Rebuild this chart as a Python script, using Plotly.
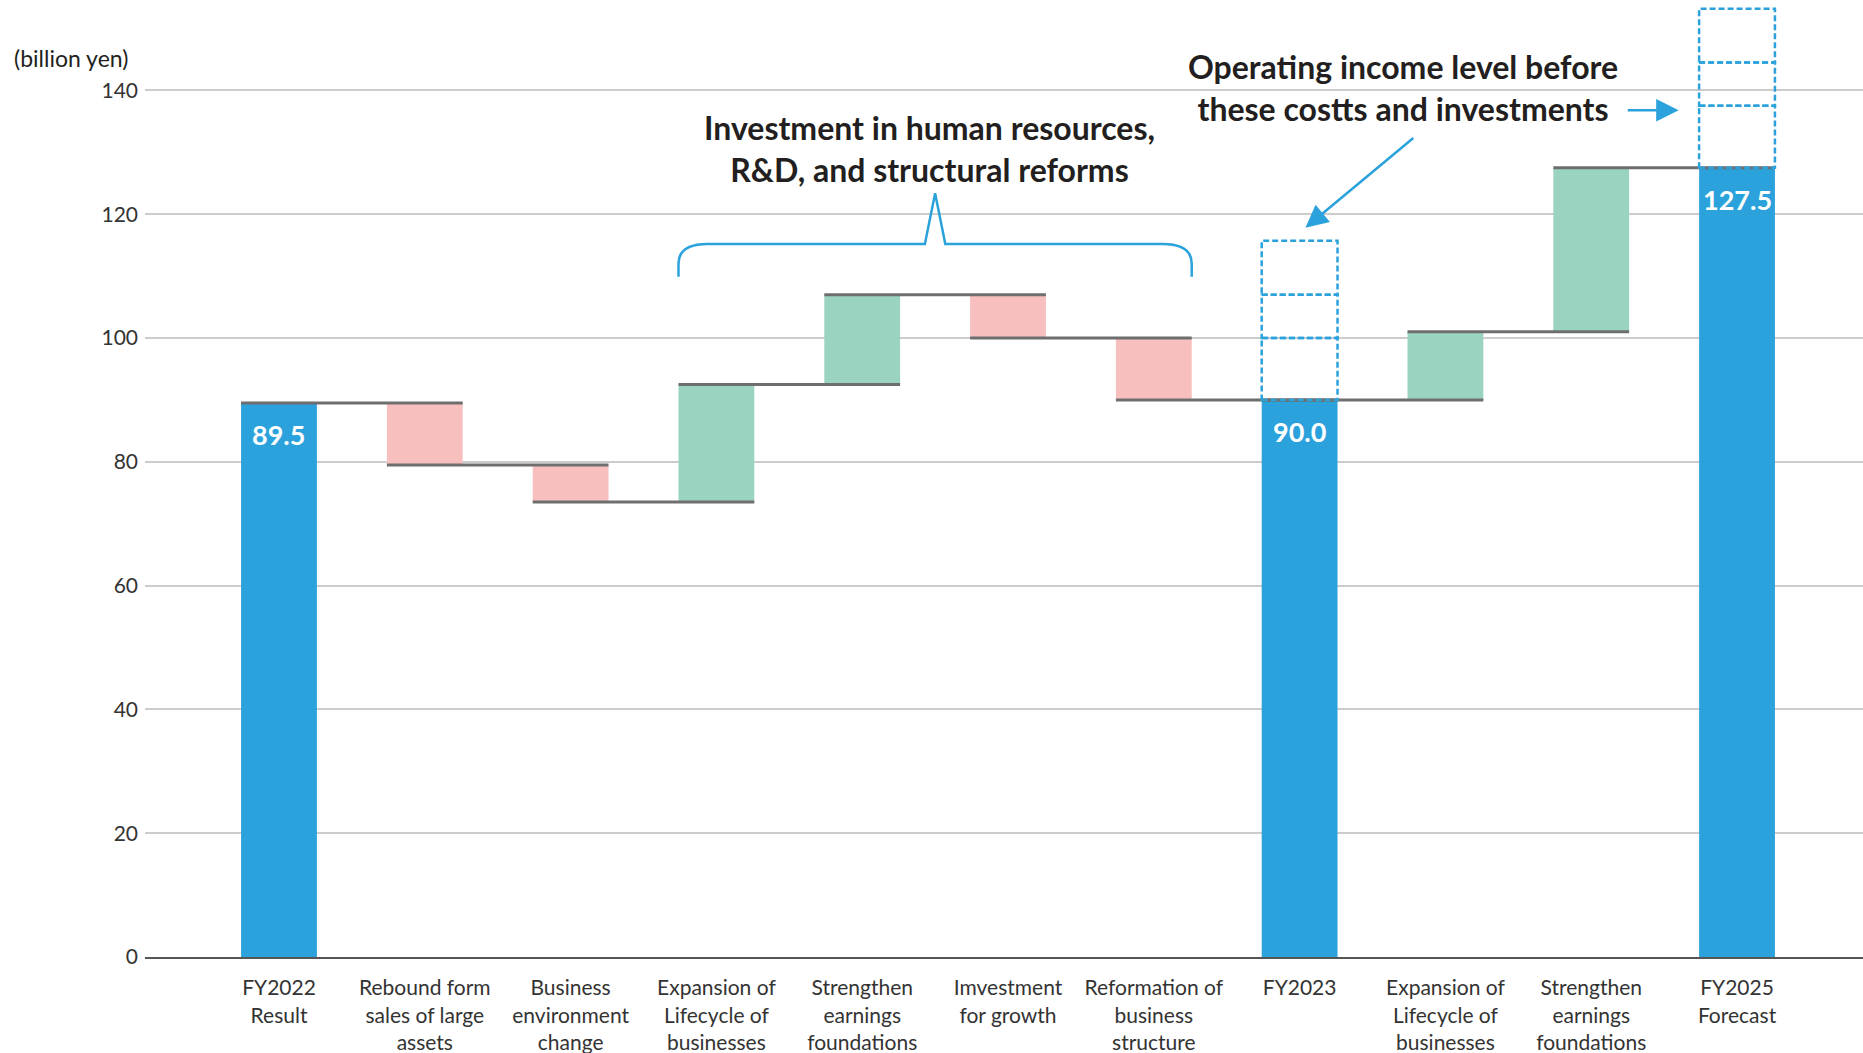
import plotly.graph_objects as go

# ---------------- data ----------------
categories = [
    "FY2022<br>Result",
    "Rebound form<br>sales of large<br>assets",
    "Business<br>environment<br>change",
    "Expansion of<br>Lifecycle of<br>businesses",
    "Strengthen<br>earnings<br>foundations",
    "Imvestment<br>for growth",
    "Reformation of<br>business<br>structure",
    "FY2023",
    "Expansion of<br>Lifecycle of<br>businesses",
    "Strengthen<br>earnings<br>foundations",
    "FY2025<br>Forecast",
]
values = [89.5, -10.0, -6.0, 19.0, 14.5, -7.0, -10.0, 90.0, 11.0, 26.5, 127.5]
measures = ["absolute", "relative", "relative", "relative", "relative", "relative",
            "relative", "total", "relative", "relative", "total"]
# dashed "before costs and investments" segments stacked on the totals
hidden_segments = [10.0, 7.0, 8.7]
hidden_on = [7, 10]
y_ticks = [0, 20, 40, 60, 80, 100, 120, 140]

# ---------------- styles ----------------
BLUE = "#2ba2dc"
PINK = "#f8bfbf"
GREEN = "#9ad4c0"
GRAY = "#6e6e6e"
TXT = "#231f20"
FONT = "Lato"
BW = 0.52  # bar width in category units

x = list(range(len(categories)))

# running levels
levels = []
run = 0.0
for v, m in zip(values, measures):
    if m == "absolute":
        run = v
    elif m == "relative":
        run += v
    levels.append(run)

fig = go.Figure()
fig.add_trace(go.Waterfall(
    x=x, y=values, measure=measures, width=BW,
    increasing=dict(marker=dict(color=GREEN)),
    decreasing=dict(marker=dict(color=PINK)),
    totals=dict(marker=dict(color=BLUE)),
    connector=dict(visible=False),
    hoverinfo="skip", showlegend=False,
))

# connector lines across bar tops
cx, cy = [], []
for i in range(len(x) - 1):
    cx += [x[i] - BW / 2, x[i + 1] + BW / 2, None]
    cy += [levels[i], levels[i], None]
fig.add_trace(go.Scatter(x=cx, y=cy, mode="lines",
                         line=dict(color=GRAY, width=3),
                         hoverinfo="skip", showlegend=False))

# dashed boxes
shapes = []
for i in hidden_on:
    base = levels[i]
    for seg in hidden_segments:
        shapes.append(dict(type="rect", xref="x", yref="y",
                           x0=x[i] - BW / 2, x1=x[i] + BW / 2,
                           y0=base, y1=base + seg,
                           line=dict(color=BLUE, width=2.5, dash="6px,3px")))
        base += seg

# bracket over items 3..6
bx0 = x[3] - BW / 2
bx1 = x[6] + BW / 2
bm = (bx0 + bx1) / 2
yb, yh, yp = 109.9, 115.2, 123.4
rx, ry = 0.2, 3.2
path = (f"M {bx0},{yb} L {bx0},{yh - ry} Q {bx0},{yh} {bx0 + rx},{yh} "
        f"L {bm - 0.07},{yh} L {bm},{yp} L {bm + 0.07},{yh} "
        f"L {bx1 - rx},{yh} Q {bx1},{yh} {bx1},{yh - ry} L {bx1},{yb}")
shapes.append(dict(type="path", xref="x", yref="y", path=path,
                   line=dict(color=BLUE, width=2.5)))

annotations = []
# total labels
for i, (v, m) in enumerate(zip(values, measures)):
    if m in ("absolute", "total"):
        annotations.append(dict(x=x[i], y=levels[i], xref="x", yref="y",
                                text=f"<b>{levels[i]:.1f}</b>", showarrow=False,
                                yanchor="top", yshift=-13,
                                font=dict(family=FONT, size=27, color="white")))

annotations.append(dict(x=4.46, y=130.6, xref="x", yref="y",
                        text="<b>Investment in human resources,<br>R&D, and structural reforms</b>",
                        showarrow=False, yanchor="middle", align="center",
                        font=dict(family=FONT, size=32, color=TXT)))
annotations.append(dict(x=7.71, y=140.4, xref="x", yref="y",
                        text="<b>Operating income level before<br>these costts and investments</b>",
                        showarrow=False, yanchor="middle", align="center",
                        font=dict(family=FONT, size=32, color=TXT)))
# arrows
annotations.append(dict(x=7.04, y=117.8, ax=7.79, ay=132.5, xref="x", yref="y",
                        axref="x", ayref="y", text="", showarrow=True,
                        arrowhead=2, arrowsize=1.8, arrowwidth=2.5, arrowcolor=BLUE))
annotations.append(dict(x=9.60, y=136.8, ax=9.24, ay=136.8, xref="x", yref="y",
                        axref="x", ayref="y", text="", showarrow=True,
                        arrowhead=2, arrowsize=1.8, arrowwidth=2.5, arrowcolor=BLUE))
# unit label
annotations.append(dict(x=-0.0774, y=145.2, xref="paper", yref="y",
                        text="(billion yen)", showarrow=False, xanchor="left",
                        font=dict(family=FONT, size=23, color=TXT)))

fig.update_layout(
    width=1863, height=1053,
    margin=dict(l=145, r=0, t=0, b=95.6, pad=0),
    paper_bgcolor="white", plot_bgcolor="white",
    font=dict(family=FONT, size=21, color="#333333"),
    shapes=shapes, annotations=annotations,
    xaxis=dict(range=[-0.919, 10.864], tickmode="array", tickvals=x,
               ticktext=categories, showgrid=False, zeroline=False,
               showline=True, linecolor="#555555", linewidth=2,
               ticks="", ticklabelstandoff=11,
               tickfont=dict(family=FONT, size=21, color="#333333")),
    yaxis=dict(range=[0, 154.6], tickmode="array", tickvals=y_ticks,
               showgrid=True, gridcolor="#cccccc", gridwidth=1.5,
               zeroline=False, showline=False, ticks="",
               ticklabelstandoff=6,
               tickfont=dict(family=FONT, size=21, color="#333333")),
)

fig.write_html("out.html", config={"displayModeBar": False},
               post_script="document.body.style.margin='0px';document.documentElement.style.overflow='hidden';")
